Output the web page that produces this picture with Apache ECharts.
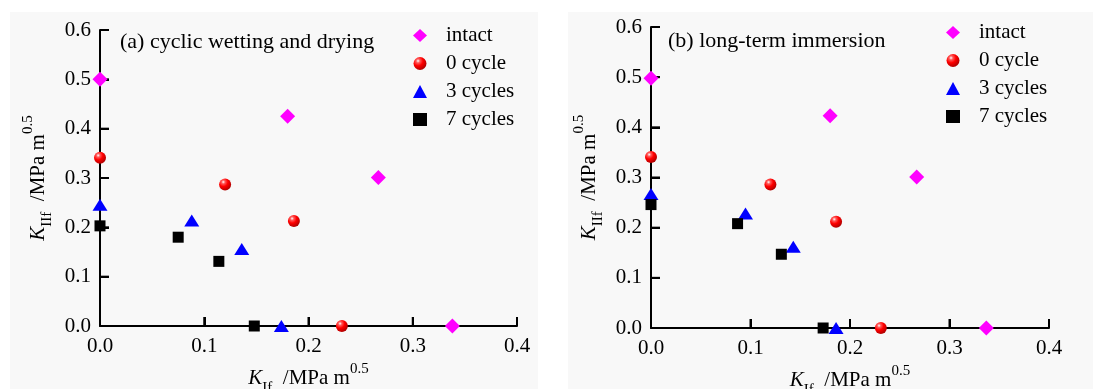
<!DOCTYPE html>
<html>
<head>
<meta charset="utf-8">
<script src="https://cdn.jsdelivr.net/npm/echarts@6/dist/echarts.min.js"></script>
<style>
html, body { margin: 0; padding: 0; background: #fff; }
#wrap { position: relative; width: 1093px; height: 389px; }
.panel { position: absolute; background: #f8f8f8; }
#chart { position: absolute; left: 0; top: 0; width: 1093px; height: 389px; }
</style>
</head>
<body>
<div id="wrap">
  <div class="panel" style="left:10px;top:12px;width:528px;height:377px;"></div>
  <div class="panel" style="left:568px;top:12px;width:525px;height:377px;"></div>
  <div id="chart"></div>
</div>
<script>
// 数据：K_If / K_IIf
let seriesNames = ['intact', '0 cycle', '3 cycles', '7 cycles'];
let panelTitles = ['(a) cyclic wetting and drying', '(b) long-term immersion'];
let xTickValues = [0, 0.1, 0.2, 0.3, 0.4];
let yTickValues = [0, 0.1, 0.2, 0.3, 0.4, 0.5, 0.6];

// (a) 干湿循环
let wetIntact = [[0, 0.5], [0.18, 0.425], [0.267, 0.301], [0.338, 0]];
let wetCycle0 = [[0, 0.341], [0.12, 0.287], [0.186, 0.213], [0.232, 0]];
let wetCycle3 = [[0, 0.246], [0.088, 0.214], [0.136, 0.156], [0.174, 0]];
let wetCycle7 = [[0, 0.203], [0.075, 0.18], [0.114, 0.131], [0.148, 0]];

// (b) 长期浸泡
let immIntact = [[0, 0.498], [0.18, 0.423], [0.267, 0.301], [0.337, 0]];
let immCycle0 = [[0, 0.341], [0.12, 0.286], [0.186, 0.212], [0.231, 0]];
let immCycle3 = [[0, 0.267], [0.095, 0.228], [0.143, 0.162], [0.186, 0]];
let immCycle7 = [[0, 0.246], [0.087, 0.208], [0.131, 0.147], [0.173, 0]];

let font = 'Liberation Serif';

let myChart = echarts.init(document.getElementById('chart'));

// 红色小球
let sphere = new echarts.graphic.RadialGradient(0.35, 0.3, 0.75, [
    { offset: 0, color: '#ffffff' },
    { offset: 0.2, color: '#ff5a5a' },
    { offset: 0.5, color: '#ff0000' },
    { offset: 1, color: '#a80000' }
]);

let markers = [
    { symbol: 'diamond', size: 15, color: '#ff00ff' },
    { symbol: 'circle', size: 12, color: sphere },
    { symbol: 'triangle', size: [15, 12], color: '#0000ff' },
    { symbol: 'rect', size: 11, color: '#000000' }
];

function makeSeries(dataList, gridIdx) {
    return dataList.map(function (d, i) {
        return {
            name: seriesNames[i],
            type: 'scatter',
            xAxisIndex: gridIdx,
            yAxisIndex: gridIdx,
            symbol: markers[i].symbol,
            symbolSize: markers[i].size,
            clip: false,
            z: 5,
            itemStyle: { color: markers[i].color, opacity: 1 },
            data: d
        };
    });
}

// 刻度线 (朝内)，用坐标轴换算位置
function tickSeries(gridIdx) {
    let data = xTickValues.map(function (v) { return [v, 0, 0]; })
        .concat(yTickValues.map(function (v) { return [0, v, 1]; }));
    return {
        type: 'custom',
        xAxisIndex: gridIdx,
        yAxisIndex: gridIdx,
        silent: true,
        clip: false,
        z: 3,
        encode: { x: 0, y: 1 },
        renderItem: function (params, api) {
            let p = api.coord([api.value(0), api.value(1)]);
            let shape = api.value(2) === 0
                ? { x1: p[0], y1: p[1], x2: p[0], y2: p[1] - 9 }
                : { x1: p[0], y1: p[1], x2: p[0] + 9, y2: p[1] };
            return { type: 'line', shape: shape, style: { stroke: '#000', lineWidth: 2 } };
        },
        data: data
    };
}

// 轴名称 (上下标)
let nameRich = {
    k: { fontFamily: font, fontSize: 21, fontStyle: 'italic', lineHeight: 34, color: '#000' },
    s: { fontFamily: font, fontSize: 15, lineHeight: 4, verticalAlign: 'bottom', color: '#000' },
    t: { fontFamily: font, fontSize: 21, lineHeight: 34, color: '#000' },
    p: { fontFamily: font, fontSize: 15, lineHeight: 6, verticalAlign: 'top', color: '#000' }
};

function tickLabel() {
    return {
        color: '#000',
        fontFamily: font,
        fontSize: 21,
        formatter: function (v) { return v.toFixed(1); }
    };
}

function xAxisOf(gridIdx) {
    let label = tickLabel();
    label.margin = 10;
    return {
        gridIndex: gridIdx,
        type: 'value',
        min: 0,
        max: 0.4,
        interval: 0.1,
        name: '{k|K}{s|If}{t|  /MPa m}{p|0.5}',
        nameLocation: 'middle',
        nameGap: 29,
        nameTextStyle: { rich: nameRich },
        axisLine: { show: true, onZero: false, lineStyle: { color: '#000', width: 2 } },
        axisTick: { show: true, inside: true, length: 9, lineStyle: { color: '#000', width: 2 } },
        axisLabel: label,
        splitLine: { show: false }
    };
}

function yAxisOf(gridIdx) {
    let label = tickLabel();
    label.margin = 9;
    return {
        gridIndex: gridIdx,
        type: 'value',
        min: 0,
        max: 0.6,
        interval: 0.1,
        name: '{k|K}{s|IIf}{t|  /MPa m}{p|0.5}',
        nameLocation: 'middle',
        nameGap: 45,
        nameTextStyle: { rich: nameRich },
        axisLine: { show: true, onZero: false, lineStyle: { color: '#000', width: 2 } },
        axisTick: { show: true, inside: true, length: 9, lineStyle: { color: '#000', width: 2 } },
        axisLabel: label,
        splitLine: { show: false }
    };
}

function legendOf(left, top) {
    return {
        left: left,
        top: top,
        orient: 'vertical',
        itemWidth: 14,
        itemHeight: 13,
        itemGap: 7,
        padding: 0,
        textStyle: { fontFamily: font, fontSize: 21, color: '#000', padding: [0, 0, 0, 14] },
        data: seriesNames
    };
}

let option = {
    animation: false,
    backgroundColor: 'transparent',
    title: [
        { text: panelTitles[0], left: 120, top: 31, padding: 0,
          textStyle: { fontFamily: font, fontSize: 22, fontWeight: 'normal', color: '#000' } },
        { text: panelTitles[1], left: 668, top: 30, padding: 0,
          textStyle: { fontFamily: font, fontSize: 22, fontWeight: 'normal', color: '#000' } }
    ],
    legend: [legendOf(413, 25), legendOf(946, 22)],
    grid: [
        { left: 100, right: 576, top: 30, bottom: 63, containLabel: false, outerBoundsMode: 'none' },
        { left: 651, right: 44, top: 27, bottom: 61, containLabel: false, outerBoundsMode: 'none' }
    ],
    xAxis: [xAxisOf(0), xAxisOf(1)],
    yAxis: [yAxisOf(0), yAxisOf(1)],
    series: makeSeries([wetIntact, wetCycle0, wetCycle3, wetCycle7], 0)
        .concat(makeSeries([immIntact, immCycle0, immCycle3, immCycle7], 1))
        .concat([tickSeries(0), tickSeries(1)])
};

myChart.setOption(option);
</script>
</body>
</html>
